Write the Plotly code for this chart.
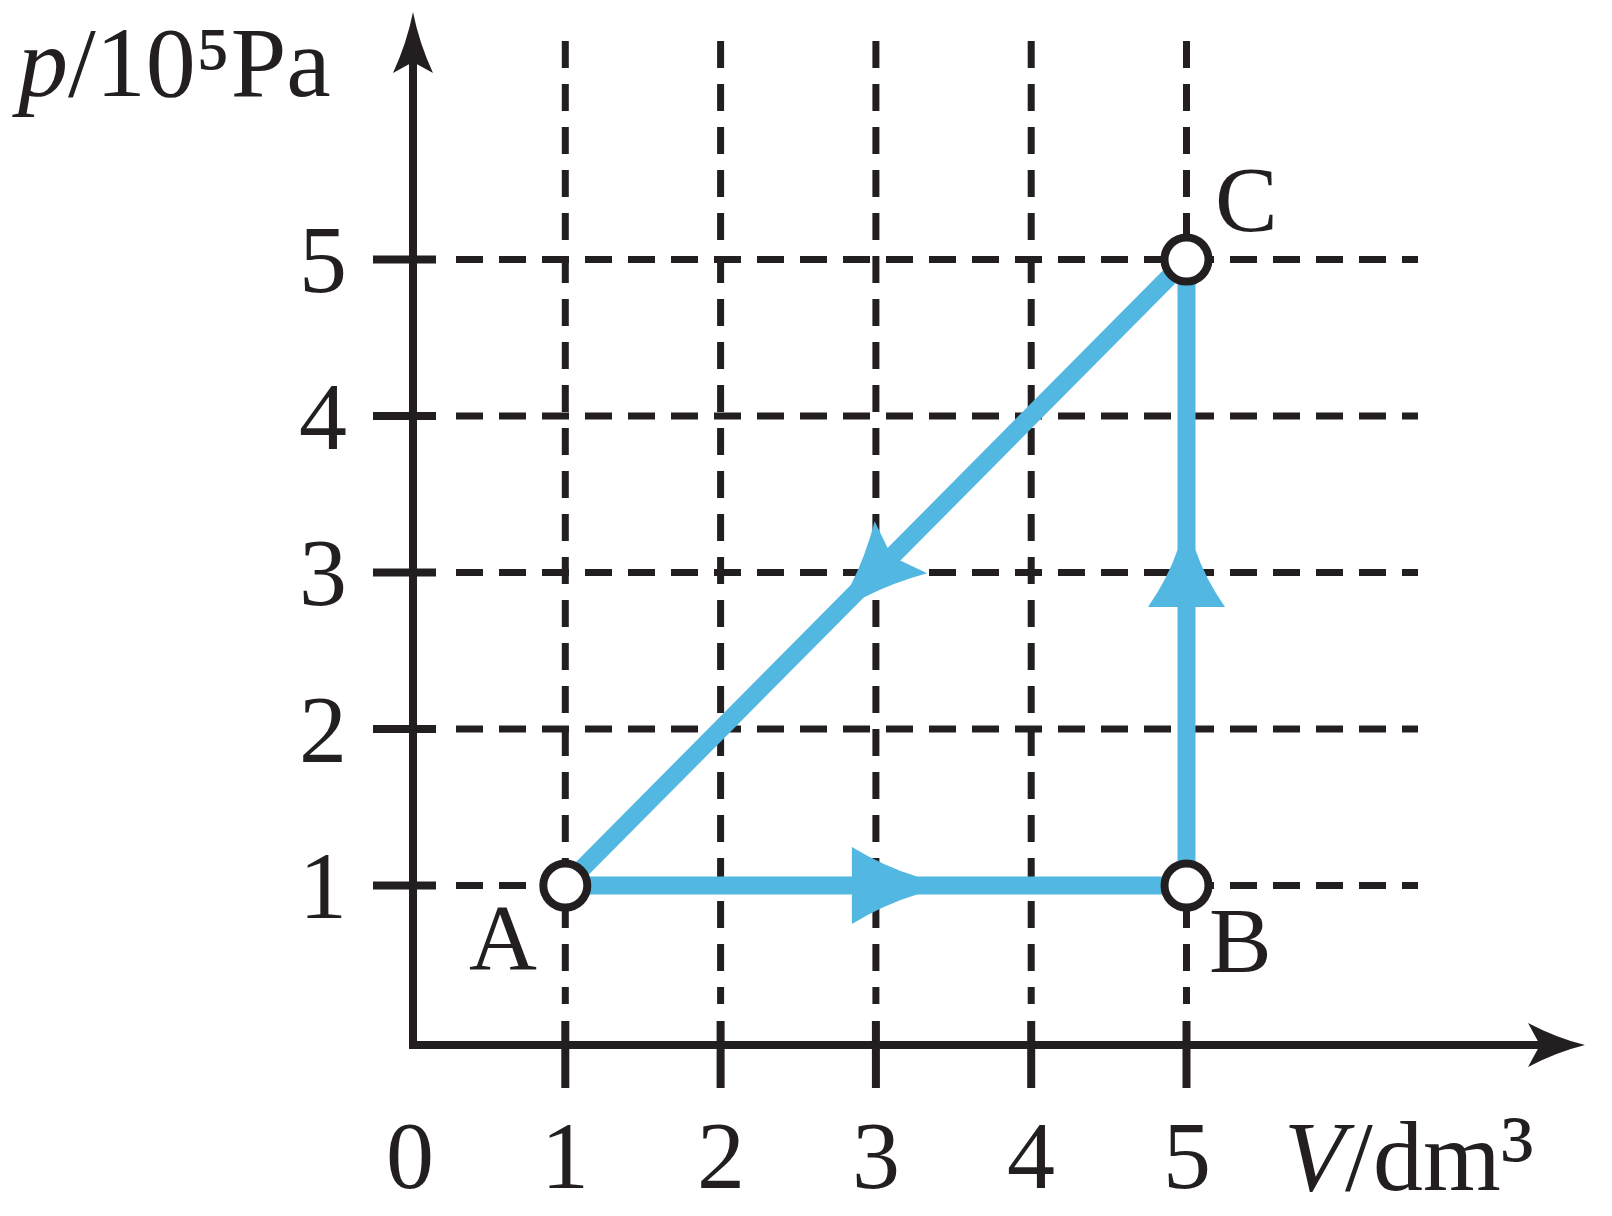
import plotly.graph_objects as go
import numpy as np

# ---------------- data ----------------
x_tick_vals = [0, 1, 2, 3, 4, 5]
x_tick_labels = ["0", "1", "2", "3", "4", "5"]
y_tick_vals = [1, 2, 3, 4, 5]
y_tick_labels = ["1", "2", "3", "4", "5"]
grid_V = [1, 2, 3, 4, 5]
grid_p = [1, 2, 3, 4, 5]
state_names = ["A", "B", "C"]
state_V = [1, 5, 5]
state_p = [1, 1, 5]
x_title = "<i>V</i>/dm<span style='font-size:110px'>³</span>"
y_title = "<i>p</i>/10⁵Pa"

# ---------------- geometry / style (page pixels) ----------------
FIG_W, FIG_H = 1612, 1216
X0_PX, PX_PER_X = 410.0, 155.3
Y0_PX, PX_PER_Y = 1042.0, 156.5
x_range = [-X0_PX / PX_PER_X, (FIG_W - X0_PX) / PX_PER_X]
y_range = [(Y0_PX - FIG_H) / PX_PER_Y, Y0_PX / PX_PER_Y]

INK = "#231F20"
BLUE = "#52B8E2"
FONT = "Liberation Serif"

AX_X = 3 / PX_PER_X      # vertical axis line position (data)
AX_Y = -3 / PX_PER_Y     # horizontal axis line position (data)


def to_px(x, y):
    return np.array([X0_PX + x * PX_PER_X, Y0_PX - y * PX_PER_Y])


def to_data(p):
    return ((p[0] - X0_PX) / PX_PER_X, (Y0_PX - p[1]) / PX_PER_Y)


def px_x(px):
    return (px - X0_PX) / PX_PER_X


def px_y(py):
    return (Y0_PX - py) / PX_PER_Y


def arrow_path(mx, my, ux, uy, L, hw, lw=0.0, notch=0.0, bow=4.0):
    M = to_px(mx, my)
    d = np.array([ux * PX_PER_X, -uy * PX_PER_Y])
    d = d / np.linalg.norm(d)
    n = np.array([-d[1], d[0]])
    B = M - L * d
    P1 = B + hw * n
    P2 = M + lw * n
    P3 = M - lw * n
    P4 = B - hw * n
    N = B + notch * d
    c1 = (P1 + P2) / 2 - bow * n
    c2 = (P3 + P4) / 2 + bow * n
    f = lambda p: "%.5f,%.5f" % to_data(p)
    return (f"M {f(P1)} Q {f(c1)} {f(P2)} L {f(P3)} Q {f(c2)} {f(P4)} "
            f"L {f(N)} Z")


fig = go.Figure()

# dashed grid lines
dash = "27px,16px"
hx, hy = [], []
h_start, h_end = px_x(456), px_x(1418)
for p in grid_p:
    hx += [h_start, h_end, None]
    hy += [p, p, None]
vx, vy = [], []
v_top, v_bot = px_y(41), px_y(1004)
for v in grid_V:
    vx += [v, v, None]
    vy += [v_top, v_bot, None]
fig.add_trace(go.Scatter(x=hx, y=hy, mode="lines",
                         line=dict(color=INK, width=7, dash=dash),
                         hoverinfo="skip"))
fig.add_trace(go.Scatter(x=vx, y=vy, mode="lines",
                         line=dict(color=INK, width=7, dash=dash),
                         hoverinfo="skip"))

# solid tick stubs
sx, sy = [], []
for p in y_tick_vals:
    sx += [AX_X - 40 / PX_PER_X, AX_X + 23 / PX_PER_X, None]
    sy += [p, p, None]
for v in grid_V:
    sx += [v, v, None]
    sy += [AX_Y + 24 / PX_PER_Y, AX_Y - 43 / PX_PER_Y, None]
fig.add_trace(go.Scatter(x=sx, y=sy, mode="lines",
                         line=dict(color=INK, width=8), hoverinfo="skip"))

# axes
x_tip = px_x(1585)
y_tip = px_y(12)
fig.add_trace(go.Scatter(x=[AX_X, AX_X, x_tip - 40 / PX_PER_X],
                         y=[y_tip - 45 / PX_PER_Y, AX_Y, AX_Y], mode="lines",
                         line=dict(color=INK, width=8), hoverinfo="skip"))

shapes = []
shapes.append(dict(type="path", path=arrow_path(AX_X, y_tip, 0, 1, 61, 20, 0, 11, 4),
                   fillcolor=INK, line=dict(width=0), xref="x", yref="y"))
shapes.append(dict(type="path", path=arrow_path(x_tip, AX_Y, 1, 0, 57, 22, 0, 12, 4),
                   fillcolor=INK, line=dict(width=0), xref="x", yref="y"))

# cycle path A -> B -> C -> A
cx = state_V + [state_V[0]]
cy = state_p + [state_p[0]]
fig.add_trace(go.Scatter(x=cx, y=cy, mode="lines",
                         line=dict(color=BLUE, width=18), hoverinfo="skip"))

# direction arrows on each process
ARROW_FRAC = [0.566, 0.536, 0.53]
ARROW_STYLE = [(65, 38.5, 0, 5), (57, 38.5, 0, 5), (62, 37, 13, 4)]
for i in range(3):
    s = np.array([cx[i], cy[i]], dtype=float)
    e = np.array([cx[i + 1], cy[i + 1]], dtype=float)
    m = s + ARROW_FRAC[i] * (e - s)
    u = e - s
    L, hw, notch, bow = ARROW_STYLE[i]
    shapes.append(dict(type="path",
                       path=arrow_path(m[0], m[1], u[0], u[1], L, hw, 9, notch, bow),
                       fillcolor=BLUE, line=dict(width=0), xref="x", yref="y"))

# state markers
fig.add_trace(go.Scatter(x=state_V, y=state_p, mode="markers",
                         marker=dict(size=44, color="white",
                                     line=dict(color=INK, width=8)),
                         hoverinfo="skip"))

annotations = []
for v, t in zip(x_tick_vals, x_tick_labels):
    annotations.append(dict(x=v, y=-0.728, text=t, showarrow=False,
                            xanchor="center", yanchor="middle",
                            font=dict(family=FONT, size=96, color=INK)))
for p, t in zip(y_tick_vals, y_tick_labels):
    annotations.append(dict(x=-0.56, y=p, text=t, showarrow=False,
                            xanchor="center", yanchor="middle",
                            font=dict(family=FONT, size=96, color=INK)))
LABEL_SHIFTS = [(-62, -51), (54, -54), (60, 61)]
for name, v, p, (dx, dy) in zip(state_names, state_V, state_p, LABEL_SHIFTS):
    annotations.append(dict(x=v, y=p, text=name, showarrow=False,
                            xanchor="center", yanchor="middle",
                            xshift=dx, yshift=dy,
                            font=dict(family=FONT, size=94, color=INK)))
annotations.append(dict(x=px_x(10), y=px_y(62),
                        text=y_title, showarrow=False, xanchor="left",
                        yanchor="middle",
                        font=dict(family=FONT, size=100, color=INK)))
annotations.append(dict(x=px_x(1282), xref="x", y=0, yref="paper",
                        text=x_title, showarrow=False, xanchor="left",
                        yanchor="bottom",
                        font=dict(family=FONT, size=100, color=INK)))

fig.update_layout(
    width=FIG_W, height=FIG_H,
    margin=dict(l=0, r=0, t=0, b=0),
    paper_bgcolor="white", plot_bgcolor="white",
    showlegend=False,
    xaxis=dict(range=x_range, visible=False, fixedrange=True),
    yaxis=dict(range=y_range, visible=False, fixedrange=True),
    shapes=shapes, annotations=annotations,
)

fig.write_html("out.html", config={"displayModeBar": False},
               post_script="document.body.style.margin='0';"
                           "document.body.style.overflow='hidden';")
